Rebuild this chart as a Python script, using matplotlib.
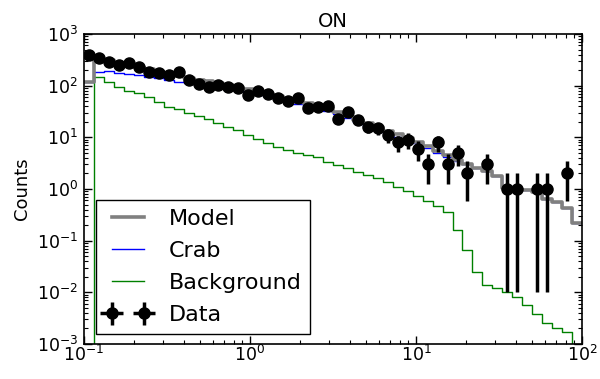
import numpy as np
import matplotlib
matplotlib.use('Agg')
from matplotlib import pyplot as plt

# energy binning: 50 log bins from 0.1 to 100
bin_edges = np.logspace(-1, 2, 51)

# observed counts per bin
data_counts = [390, 340, 290, 250, 270, 227, 187, 178, 162, 181,
               129, 108, 96, 103, 96, 91, 66, 80, 69, 57,
               51, 57, 37, 38, 41, 23, 31, 22, 16, 15,
               11, 8, 9, 6, 3, 8, 3, 5, 2, 0,
               3, 0, 1, 1, 0, 1, 1, 0, 2, 0]

# model components (counts per bin)
crab = [120, 186, 195, 178, 170, 160, 148, 138, 128, 119,
        112, 105, 99, 92, 87, 81, 77, 69, 62, 56,
        50, 45, 41, 36.5, 33, 27.7, 23.4, 19.9, 16.8, 14.3,
        12.1, 10.3, 8.9, 7.6, 6.3, 5.0, 4.2, 3.5, 3.0, 2.6,
        2.2, 1.8, 1.05, 1.0, 0.95, 0.89, 0.63, 0.56, 0.43, 0.22]

background = [0, 145, 119, 96, 79, 71, 60, 49, 39, 35,
              30, 26, 22.4, 19.3, 16.1, 13.9, 11.1, 9.2, 7.7, 6.5,
              5.7, 5.06, 4.57, 4.12, 3.39, 2.92, 2.51, 2.17, 1.87, 1.62,
              1.39, 1.1, 0.93, 0.72, 0.58, 0.46, 0.36, 0.158, 0.066, 0.025,
              0.014, 0.012, 0.010, 0.0083, 0.0058, 0.0038, 0.0025, 0.0020, 0.0017, 0]

model = [120, 331, 314, 274, 249, 231, 208, 187, 167, 154,
         142, 131, 121, 111, 103, 95, 88, 78, 70, 62.5,
         55.7, 50, 45.6, 40.6, 36.4, 30.6, 25.9, 22.1, 18.7, 15.9,
         13.5, 11.4, 9.8, 8.3, 6.9, 5.5, 4.6, 3.7, 3.1, 2.6,
         2.2, 1.8, 1.06, 1.0, 0.95, 0.89, 0.63, 0.56, 0.43, 0.22]


def step_line(vals):
    # repeat last value so the step reaches the upper edge of the last bin
    return np.append(vals, vals[-1])


fig = plt.figure(figsize=(6.0, 3.79), dpi=100)
ax = fig.add_axes([84/600, 1 - 344/379, 498/600, 310/379])

ax.plot(bin_edges, step_line(model), drawstyle='steps-post', color='0.5',
        linewidth=2.6, label='Model', zorder=2.5)
ax.plot(bin_edges, step_line(crab), drawstyle='steps-post', color='b',
        linewidth=1.0, label='Crab', zorder=2)
ax.plot(bin_edges, step_line(background), drawstyle='steps-post', color='g',
        linewidth=1.0, label='Background', zorder=2)

# data points with poisson errors, zero-count bins are not drawn
counts = np.array(data_counts, dtype=float)
centers = np.sqrt(bin_edges[:-1] * bin_edges[1:])
keep = counts > 0
c = counts[keep]
x = centers[keep]
err = np.sqrt(c)
yerr = [np.minimum(err, c - 0.01), err]
xerr = [x - bin_edges[:-1][keep], bin_edges[1:][keep] - x]
ax.errorbar(x, c, xerr=xerr, yerr=yerr, fmt='o', color='k', markersize=8,
            elinewidth=2.5, capsize=0, label='Data', zorder=3)

ax.set_xscale('log')
ax.set_yscale('log')
ax.set_xlim(0.1, 100)
ax.set_ylim(1e-3, 1e3)

ax.set_title('ON', fontsize=14, pad=5)
ax.set_ylabel('Counts', fontsize=13)
ax.tick_params(which='both', direction='in', top=True, right=True, labelsize=12.5)
ax.tick_params(axis='x', which='major', pad=0.5)
ax.tick_params(axis='y', which='major', pad=4.5)
ax.tick_params(which='major', length=6, width=1)
ax.tick_params(which='minor', length=3, width=0.8)
for s in ax.spines.values():
    s.set_linewidth(1.2)

leg = ax.legend(loc='lower left', bbox_to_anchor=(0.024, 0.032), borderaxespad=0,
                fontsize=16, numpoints=2, fancybox=False, framealpha=1,
                edgecolor='k', handlelength=2.07, handletextpad=0.8,
                labelspacing=0.55, borderpad=0.4)
leg.get_frame().set_linewidth(1.0)

fig.savefig('out.png', dpi=100)
